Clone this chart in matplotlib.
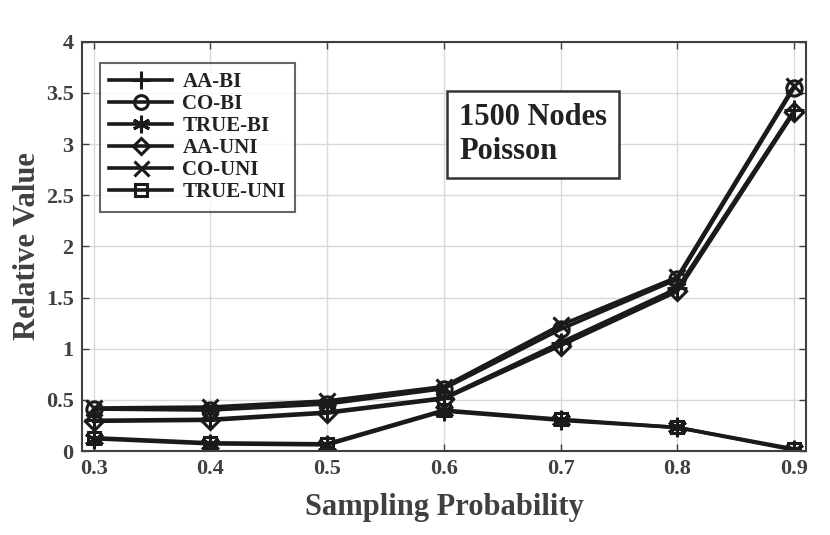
import matplotlib
matplotlib.use("Agg")
import matplotlib.pyplot as plt

x = [0.3, 0.4, 0.5, 0.6, 0.7, 0.8, 0.9]
aa_bi = [0.30, 0.31, 0.38, 0.52, 1.06, 1.59, 3.33]
co_bi = [0.41, 0.40, 0.46, 0.61, 1.19, 1.68, 3.55]
true_bi = [0.12, 0.07, 0.06, 0.39, 0.30, 0.23, 0.01]
aa_uni = [0.29, 0.30, 0.37, 0.51, 1.03, 1.56, 3.31]
co_uni = [0.42, 0.43, 0.49, 0.63, 1.23, 1.70, 3.57]
true_uni = [0.13, 0.08, 0.07, 0.40, 0.31, 0.23, 0.02]

series = [
    ("AA-BI", aa_bi, "+"),
    ("CO-BI", co_bi, "o"),
    ("TRUE-BI", true_bi, (6, 2, 0)),
    ("AA-UNI", aa_uni, "D"),
    ("CO-UNI", co_uni, "x"),
    ("TRUE-UNI", true_uni, "s"),
]
sizes = {"+": 14, "o": 11, "D": 9, "x": 12, "s": 9}

txt = "#404040"
plt.rcParams["font.family"] = ["Liberation Serif", "DejaVu Serif"]
plt.rcParams["font.weight"] = "bold"

fig = plt.figure(figsize=(8.3, 5.35), dpi=100)
ax = fig.add_axes([0.0988, 0.157, 0.872, 0.765])

for name, vals, m in series:
    ms = sizes.get(m, 14) if isinstance(m, str) else 14
    ax.plot(x, vals, color="#1a1a1a", lw=2.6, marker=m, ms=ms,
            mfc="none", mec="#1a1a1a", mew=2.2, label=name)

ax.set_xlim(0.29, 0.91)
ax.set_ylim(0, 4)
ax.set_xticks(x)
ax.set_xticklabels(["0.3", "0.4", "0.5", "0.6", "0.7", "0.8", "0.9"])
ax.set_yticks([0, 0.5, 1, 1.5, 2, 2.5, 3, 3.5, 4])
ax.set_yticklabels(["0", "0.5", "1", "1.5", "2", "2.5", "3", "3.5", "4"])
ax.grid(True, color="#d9d9d9", lw=1)
ax.set_axisbelow(True)
ax.tick_params(direction="in", top=True, right=True, labelsize=16,
               colors="#404040", labelcolor=txt, length=5, width=1, pad=6)
for lab in ax.get_xticklabels() + ax.get_yticklabels():
    lab.set_fontweight("bold")
for s in ax.spines.values():
    s.set_color("#404040")
    s.set_linewidth(1.5)

ax.set_xlabel("Sampling Probability", fontsize=22, fontweight="bold", color=txt, labelpad=10)
ax.set_ylabel("Relative Value", fontsize=22, fontweight="bold", color=txt, labelpad=3)

leg = ax.legend(loc="upper left", bbox_to_anchor=(0.025, 0.949),
                prop={"weight": "bold", "size": 15}, frameon=True, fancybox=False,
                edgecolor="#404040", handlelength=3.0, labelspacing=0.1,
                borderpad=0.45, handletextpad=0.5, markerscale=0.9, borderaxespad=0)
leg.get_frame().set_linewidth(1.5)
for t in leg.get_texts():
    t.set_color("#222222")

ax.text(0.521, 0.773, "1500 Nodes\nPoisson", transform=ax.transAxes,
        fontsize=22, fontweight="bold", color="#222222", va="center", ha="left",
        linespacing=1.2,
        bbox=dict(boxstyle="square,pad=0.4", fc="white", ec="#333333", lw=1.8))

fig.savefig("out.png", dpi=100)
